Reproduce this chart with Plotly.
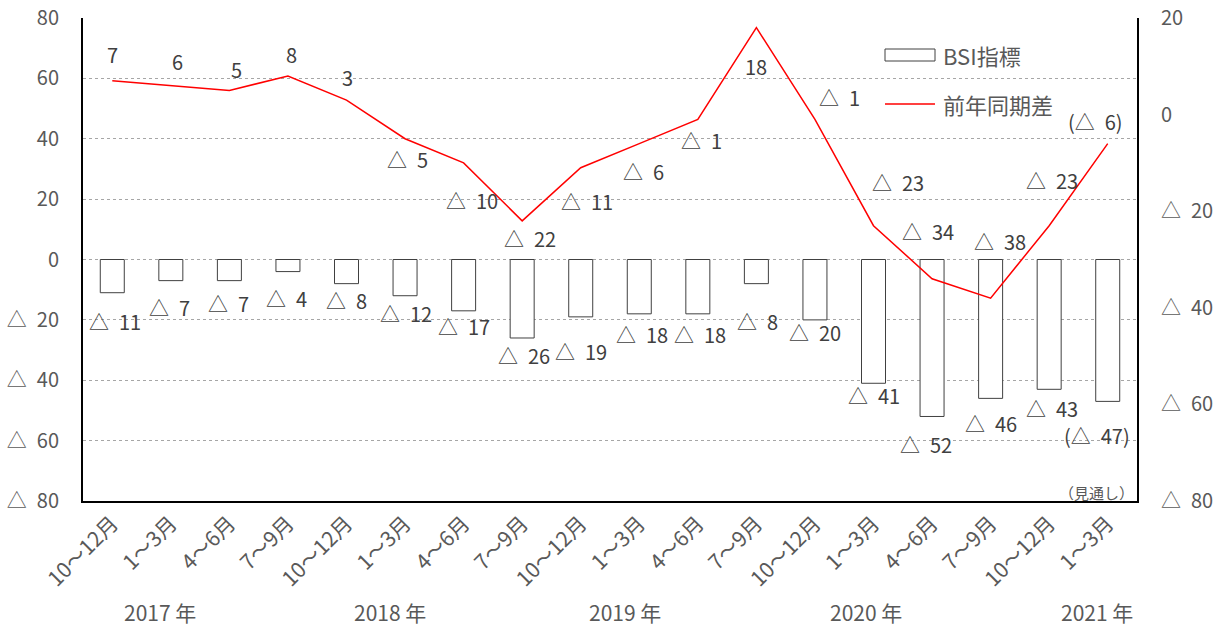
import plotly.graph_objects as go

# Survey periods (quarters) and the year each block of quarters belongs to
periods = ["10～12月", "1～3月", "4～6月", "7～9月",
           "10～12月", "1～3月", "4～6月", "7～9月",
           "10～12月", "1～3月", "4～6月", "7～9月",
           "10～12月", "1～3月", "4～6月", "7～9月",
           "10～12月", "1～3月"]
years = ["2017 年", "2018 年", "2019 年", "2020 年", "2021 年"]

# BSI index (left axis) and change from the same period a year earlier (right axis)
bsi = [-11, -7, -7, -4, -8, -12, -17, -26, -19, -18, -18, -8, -20, -41, -52, -46, -43, -47]
yoy = [7, 6, 5, 8, 3, -5, -10, -22, -11, -6, -1, 18, -1, -23, -34, -38, -23, -6]
forecast_flags = [False] * 17 + [True]

left_ticks = [80, 60, 40, 20, 0, -20, -40, -60, -80]
right_ticks = [20, 0, -20, -40, -60, -80]

# ---- styling / placement ----
FONT = "Noto Sans CJK JP"
TICK_COLOR = "#595959"
LABEL_COLOR = "#404040"
W, H = 1219, 628
ML, MR, MT, MB = 83, 82, 18, 127
PW, PH = W - ML - MR, H - MT - MB

# label nudges (px) relative to the bar end / line vertex
bar_label_shift = [(3, -29), (-1, -27), (-1, -23), (-1, -27), (0, -17), (1, -18),
                   (0, -16), (2, -18), (0, -35), (3, -21), (2, -21), (1, -38),
                   (0, -13), (0, -12), (-6, -28), (0, -25), (3, -19), (-11, -34)]
line_label_shift = [(0, 26), (7, 24), (7, 21), (4, 21), (1, 23), (2, -21),
                    (8, -38), (8, -18), (6, -34), (4, -28), (4, -21), (0, -39),
                    (25, 22), (24, 43), (-4, 47), (9, 57), (3, 45), (-12, 22)]
year_label_px = [160, 390, 625, 866, 1097]


def tri(v):
    return str(v) if v >= 0 else "△\u2002" + str(-v)


def label(v, forecast):
    s = tri(v)
    return "(" + s + ")" if forecast else s


def px(x):
    return (x - ML) / PW


def py(y):
    return 1 - (y - MT) / PH


xs = list(range(len(periods)))

fig = go.Figure()
fig.add_trace(go.Bar(
    x=xs, y=bsi, name="BSI指標", width=0.41,
    marker=dict(color="white", line=dict(color="#404040", width=1)),
    yaxis="y", showlegend=False,
))
fig.add_trace(go.Scatter(
    x=xs, y=yoy, name="前年同期差", mode="lines",
    line=dict(color="#ff0000", width=1.5),
    yaxis="y2", showlegend=False,
))

annotations = []
for i, (v, f) in enumerate(zip(bsi, forecast_flags)):
    dx, dy = bar_label_shift[i]
    annotations.append(dict(
        x=i, y=v, xref="x", yref="y", text=label(v, f), showarrow=False,
        xshift=dx, yshift=dy, font=dict(family=FONT, size=20, color=LABEL_COLOR),
    ))
for i, (v, f) in enumerate(zip(yoy, forecast_flags)):
    dx, dy = line_label_shift[i]
    annotations.append(dict(
        x=i, y=v, xref="x", yref="y2", text=label(v, f), showarrow=False,
        xshift=dx, yshift=dy, font=dict(family=FONT, size=20, color=LABEL_COLOR),
    ))
for name, xp in zip(years, year_label_px):
    annotations.append(dict(
        x=px(xp), y=py(612), xref="paper", yref="paper", text=name, showarrow=False,
        xanchor="center", yanchor="middle",
        font=dict(family=FONT, size=21, color=TICK_COLOR),
    ))
annotations.append(dict(
    x=px(1136), y=py(492), xref="paper", yref="paper", text="（見通し）",
    showarrow=False, xanchor="right", yanchor="middle",
    font=dict(family=FONT, size=15, color=TICK_COLOR),
))
# legend
annotations.append(dict(
    x=px(941), y=py(55), xref="paper", yref="paper", text="BSI指標", showarrow=False,
    xanchor="left", yanchor="middle", font=dict(family=FONT, size=22, color=TICK_COLOR),
))
annotations.append(dict(
    x=px(941), y=py(104), xref="paper", yref="paper", text="前年同期差", showarrow=False,
    xanchor="left", yanchor="middle", font=dict(family=FONT, size=22, color=TICK_COLOR),
))

shapes = [
    dict(type="rect", xref="paper", yref="paper", x0=px(885), x1=px(935),
         y0=py(61), y1=py(49), line=dict(color="#404040", width=1), fillcolor="white"),
    dict(type="line", xref="paper", yref="paper", x0=px(885), x1=px(935),
         y0=py(104), y1=py(104), line=dict(color="#ff0000", width=1.5)),
]

fig.update_layout(
    width=W, height=H,
    margin=dict(l=ML, r=MR, t=MT, b=MB, autoexpand=False),
    paper_bgcolor="white", plot_bgcolor="white",
    font=dict(family=FONT, size=20, color=TICK_COLOR),
    bargap=0.59,
    xaxis=dict(
        range=[-0.5, len(periods) - 0.5], tickvals=xs, ticktext=periods,
        tickangle=-45, showline=True, linecolor="black", linewidth=2,
        showgrid=False, zeroline=False, ticks="", automargin=False,
        tickfont=dict(family=FONT, size=21, color=TICK_COLOR),
    ),
    yaxis=dict(
        range=[-80, 80], tickvals=left_ticks, ticktext=[tri(v) for v in left_ticks],
        showline=True, linecolor="black", linewidth=2,
        showgrid=True, gridcolor="#a6a6a6", griddash="dot", gridwidth=1,
        zeroline=False, ticks="", ticklabelstandoff=18, automargin=False,
        tickfont=dict(family=FONT, size=20, color=TICK_COLOR),
    ),
    yaxis2=dict(
        range=[-80, 20], tickvals=right_ticks, ticktext=[tri(v) for v in right_ticks],
        overlaying="y", side="right", showline=True, linecolor="black", linewidth=2,
        showgrid=False, zeroline=False, ticks="", ticklabelstandoff=18, automargin=False,
        tickfont=dict(family=FONT, size=20, color=TICK_COLOR),
    ),
    annotations=annotations,
    shapes=shapes,
    showlegend=False,
)

fig.write_html("out.html")
